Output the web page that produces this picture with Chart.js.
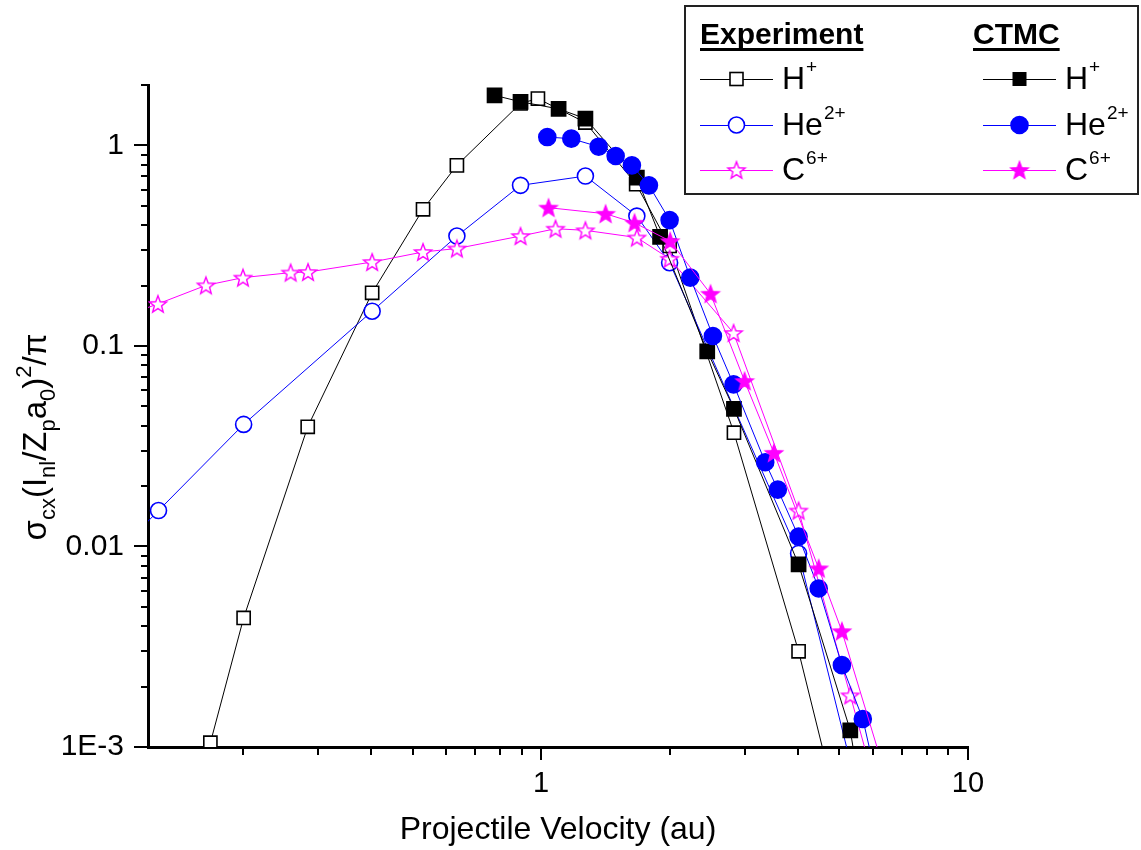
<!DOCTYPE html>
<html>
<head>
<meta charset="utf-8">
<script src="https://cdn.jsdelivr.net/npm/chart.js@4.4.1/dist/chart.umd.min.js"></script>
<style>
  html, body { margin: 0; padding: 0; background: #fff; }
</style>
</head>
<body>
<canvas id="chart" width="1141" height="850"></canvas>
<script>
// ---- data (velocity in au, scaled cross section) ----
const expH_x  = [0.168, 0.201, 0.284, 0.402, 0.529, 0.635, 0.895, 0.983, 1.27, 1.67, 2.0, 2.83, 4.01, 5.0];
const expH_y  = [0.00105, 0.0044, 0.0395, 0.184, 0.48, 0.795, 1.62, 1.71, 1.30, 0.64, 0.315, 0.0369, 0.0030, 0.00045];

const expHe_x = [0.1, 0.127, 0.201, 0.402, 0.635, 0.895, 1.27, 1.676, 2.0, 4.01, 6.0];
const expHe_y = [0.009, 0.0151, 0.0406, 0.149, 0.353, 0.632, 0.703, 0.444, 0.26, 0.00923, 0.00029];

const expC_x  = [0.1, 0.1266, 0.164, 0.2003, 0.259, 0.2845, 0.402, 0.529, 0.635, 0.895, 1.081, 1.27, 1.676, 2.0, 2.824, 4.01, 5.30, 7.0];
const expC_y  = [0.135, 0.162, 0.2004, 0.219, 0.232, 0.2335, 0.262, 0.294, 0.306, 0.353, 0.384, 0.377, 0.347, 0.272, 0.116, 0.0151, 0.00181, 0.00021];

const ctmcH_x = [0.778, 0.895, 1.099, 1.27, 1.676, 1.90, 2.45, 2.83, 4.01, 5.30, 6.0];
const ctmcH_y = [1.776, 1.65, 1.52, 1.36, 0.69, 0.35, 0.094, 0.0486, 0.00813, 0.00121, 0.00024];

const ctmcHe_x = [1.034, 1.177, 1.364, 1.495, 1.632, 1.789, 2.0, 2.236, 2.526, 2.824, 3.35, 3.585, 4.01, 4.47, 5.065, 5.67, 7.0];
const ctmcHe_y = [1.10, 1.08, 0.985, 0.885, 0.795, 0.632, 0.424, 0.219, 0.112, 0.0643, 0.0263, 0.0192, 0.0112, 0.00617, 0.00256, 0.00138, 0.000195];

const ctmcC_x = [1.041, 1.416, 1.655, 2.006, 2.494, 2.997, 3.51, 4.47, 5.065, 7.0];
const ctmcC_y = [0.489, 0.456, 0.411, 0.333, 0.182, 0.0668, 0.0293, 0.00777, 0.00378, 0.00039];

// ---- axis ticks ----
const xTickValues = [0.2, 0.3, 0.4, 0.5, 0.6, 0.7, 0.8, 0.9, 1, 2, 3, 4, 5, 6, 7, 8, 9, 10];
const xTickText   = ['', '', '', '', '', '', '', '', '1', '', '', '', '', '', '', '', '', '10'];
const yTickValues = [0.001, 0.002, 0.003, 0.004, 0.005, 0.006, 0.007, 0.008, 0.009,
                     0.01, 0.02, 0.03, 0.04, 0.05, 0.06, 0.07, 0.08, 0.09,
                     0.1, 0.2, 0.3, 0.4, 0.5, 0.6, 0.7, 0.8, 0.9, 1, 2];
const yTickText   = ['1E-3', '', '', '', '', '', '', '', '',
                     '0.01', '', '', '', '', '', '', '', '',
                     '0.1', '', '', '', '', '', '', '', '', '1', ''];

const FONT = "'Liberation Sans', Arial, sans-serif";
const BLACK = '#000000', BLUE = '#0000ff', MAGENTA = '#ff00ff';

function makeStar(filled) {
  const c = document.createElement('canvas');
  c.width = 22; c.height = 22;
  const g = c.getContext('2d');
  g.beginPath();
  for (let i = 0; i < 10; i++) {
    const r = i % 2 ? 3.8 : 9;
    const a = -Math.PI / 2 + i * Math.PI / 5;
    g.lineTo(11 + r * Math.cos(a), 11.8 + r * Math.sin(a));
  }
  g.closePath();
  g.fillStyle = filled ? MAGENTA : '#fff';
  g.fill();
  g.strokeStyle = MAGENTA;
  g.lineWidth = 1.4;
  g.stroke();
  return c;
}
const starOpen = makeStar(false);
const starFilled = makeStar(true);

function series(label, xs, ys, color, style, fill, radius) {
  return {
    label: label,
    data: xs.map((x, i) => ({x: x, y: ys[i]})),
    borderColor: color,
    borderWidth: 1,
    pointStyle: style,
    pointRadius: radius,
    pointBorderWidth: 1.6,
    pointBorderColor: color,
    pointBackgroundColor: fill,
    tension: 0
  };
}

// first dataset ends up on top
const datasets = [
  series('CTMC C6+', ctmcC_x, ctmcC_y, MAGENTA, starFilled, MAGENTA, 9),
  series('CTMC He2+', ctmcHe_x, ctmcHe_y, BLUE, 'circle', BLUE, 8.5),
  series('CTMC H+', ctmcH_x, ctmcH_y, BLACK, 'rect', BLACK, 10),
  series('Exp C6+', expC_x, expC_y, MAGENTA, starOpen, '#fff', 9),
  series('Exp He2+', expHe_x, expHe_y, BLUE, 'circle', '#fff', 8),
  series('Exp H+', expH_x, expH_y, BLACK, 'rect', '#fff', 9.3)
];

function drawMarker(ctx, kind, x, y) {
  ctx.save();
  ctx.lineWidth = 1.6;
  if (kind === 'sqOpen') {
    ctx.fillStyle = '#fff'; ctx.strokeStyle = BLACK;
    ctx.fillRect(x - 6.5, y - 6.5, 13, 13); ctx.strokeRect(x - 6.5, y - 6.5, 13, 13);
  } else if (kind === 'sqFill') {
    ctx.fillStyle = BLACK; ctx.fillRect(x - 7, y - 7, 14, 14);
  } else if (kind === 'cirOpen' || kind === 'cirFill') {
    ctx.beginPath(); ctx.arc(x, y, kind === 'cirOpen' ? 8 : 8.5, 0, Math.PI * 2);
    ctx.fillStyle = kind === 'cirOpen' ? '#fff' : BLUE; ctx.fill();
    ctx.strokeStyle = BLUE; ctx.stroke();
  } else {
    const img = kind === 'starOpen' ? starOpen : starFilled;
    ctx.drawImage(img, x - img.width / 2, y - img.height / 2);
  }
  ctx.restore();
}

function drawIon(ctx, x, y, base, sup) {
  ctx.font = '32px ' + FONT;
  ctx.textAlign = 'left';
  ctx.textBaseline = 'alphabetic';
  ctx.fillStyle = BLACK;
  ctx.fillText(base, x, y + 10);
  const w = ctx.measureText(base).width;
  ctx.font = '19px ' + FONT;
  ctx.fillText(sup, x + w + 1, y - 6);
}

const legendPlugin = {
  id: 'boxLegend',
  afterDraw(chart) {
    const ctx = chart.ctx;
    ctx.save();
    ctx.strokeStyle = '#222';
    ctx.lineWidth = 2;
    ctx.strokeRect(685, 6, 453, 188);

    ctx.font = 'bold 30px ' + FONT;
    ctx.fillStyle = BLACK;
    ctx.textBaseline = 'alphabetic';
    [['Experiment', 700], ['CTMC', 973]].forEach(([t, x]) => {
      ctx.fillText(t, x, 44);
      ctx.fillRect(x, 48, ctx.measureText(t).width, 3);
    });

    const rows = [
      [700, 79, BLACK, 'sqOpen', 'H', '+'],
      [700, 125, BLUE, 'cirOpen', 'He', '2+'],
      [700, 170, MAGENTA, 'starOpen', 'C', '6+'],
      [983, 79, BLACK, 'sqFill', 'H', '+'],
      [983, 125, BLUE, 'cirFill', 'He', '2+'],
      [983, 170, MAGENTA, 'starFill', 'C', '6+']
    ];
    rows.forEach(([x, y, col, kind, base, sup]) => {
      ctx.strokeStyle = col;
      ctx.lineWidth = 1;
      ctx.beginPath(); ctx.moveTo(x, y + 0.5); ctx.lineTo(x + 73, y + 0.5); ctx.stroke();
      drawMarker(ctx, kind, x + 36.5, y);
      drawIon(ctx, x + 82, y, base, sup);
    });
    ctx.restore();
  }
};

const axisPlugin = {
  id: 'axisDecor',
  afterDraw(chart) {
    const ctx = chart.ctx;
    const xs = chart.scales.x, ys = chart.scales.y;
    const area = chart.chartArea;
    ctx.save();
    ctx.strokeStyle = BLACK;
    ctx.lineWidth = 2;
    xTickValues.forEach((v, i) => {
      const px = Math.round(xs.getPixelForValue(v));
      const len = xTickText[i] ? 13 : 8;
      ctx.beginPath(); ctx.moveTo(px, area.bottom); ctx.lineTo(px, area.bottom + len); ctx.stroke();
    });
    yTickValues.forEach((v, i) => {
      const py = Math.round(ys.getPixelForValue(v));
      const len = yTickText[i] ? 14 : 7;
      ctx.beginPath(); ctx.moveTo(area.left, py); ctx.lineTo(area.left - len, py); ctx.stroke();
    });

    // y axis title with sub/superscripts
    const parts = [
      ['σ', 0], ['cx', 1], ['(I', 0], ['nl', 1], ['/Z', 0], ['p', 1],
      ['a', 0], ['0', 1], [')', 0], ['2', -1], ['/π', 0]
    ];
    const fontFor = k => (k === 0 ? '33px ' : '22px ') + FONT;
    let total = 0;
    parts.forEach(([t, k]) => { ctx.font = fontFor(k); total += ctx.measureText(t).width; });
    ctx.translate(46, 437);
    ctx.rotate(-Math.PI / 2);
    ctx.fillStyle = BLACK;
    ctx.textBaseline = 'alphabetic';
    let cx = -total / 2;
    parts.forEach(([t, k]) => {
      ctx.font = fontFor(k);
      const dy = k === 1 ? 9 : (k === -1 ? -15 : 0);
      ctx.fillText(t, cx, dy);
      cx += ctx.measureText(t).width;
    });
    ctx.restore();
  }
};

new Chart(document.getElementById('chart').getContext('2d'), {
  type: 'line',
  data: { datasets: datasets },
  options: {
    responsive: false,
    devicePixelRatio: 1,
    animation: false,
    layout: { padding: { top: 85, right: 173, left: 0, bottom: 0 } },
    plugins: { legend: { display: false }, tooltip: { enabled: false } },
    scales: {
      x: {
        type: 'logarithmic',
        position: 'bottom',
        min: 0.12,
        max: 10,
        grid: { display: false, drawTicks: false },
        border: { display: true, width: 3, color: BLACK },
        afterBuildTicks: s => { s.ticks = xTickValues.map(v => ({value: v})); },
        afterFit: s => { s.height = 103; },
        ticks: {
          autoSkip: false,
          maxRotation: 0,
          padding: 20,
          color: BLACK,
          font: { family: FONT, size: 29 },
          callback: v => xTickText[xTickValues.indexOf(v)] || ''
        },
        title: {
          display: true,
          text: 'Projectile Velocity (au)',
          color: BLACK,
          font: { family: FONT, size: 32 },
          padding: { top: 0, bottom: 1 }
        }
      },
      y: {
        type: 'logarithmic',
        position: 'left',
        min: 0.001,
        max: 2,
        grid: { display: false, drawTicks: false },
        border: { display: true, width: 3, color: BLACK },
        afterBuildTicks: s => { s.ticks = yTickValues.map(v => ({value: v})); },
        afterFit: s => { s.width = 148; },
        ticks: {
          autoSkip: false,
          padding: 24,
          color: BLACK,
          font: { family: FONT, size: 30 },
          callback: v => yTickText[yTickValues.indexOf(v)] || ''
        }
      }
    }
  },
  plugins: [axisPlugin, legendPlugin]
});
</script>
</body>
</html>
